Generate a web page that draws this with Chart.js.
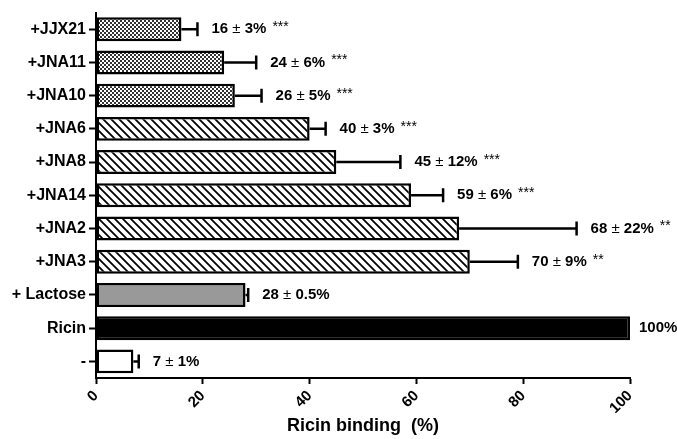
<!DOCTYPE html>
<html lang="en">
<head>
    <meta charset="UTF-8">
    <title>Ricin binding</title>
    <script src="https://cdn.jsdelivr.net/npm/chart.js"></script>
    <style>
        body {
            margin: 0;
            background: #fff;
        }
    </style>
</head>
<body>
    <canvas id="ricinChart" width="677" height="439"></canvas>

    <script>
        // data
        const categories = ['+JJX21', '+JNA11', '+JNA10', '+JNA6', '+JNA8', '+JNA14', '+JNA2', '+JNA3', '+ Lactose', 'Ricin', '-'];
        const binding = [16, 24, 26, 40, 45, 59, 68, 70, 28, 100, 7];
        const errors = [3, 6, 5, 3, 12, 6, 22, 9, 0.5, 0, 1];
        const valueLabels = ['16 ± 3%', '24 ± 6%', '26 ± 5%', '40 ± 3%', '45 ± 12%', '59 ± 6%', '68 ± 22%', '70 ± 9%', '28 ± 0.5%', '100%', '7 ± 1%'];
        const stars = ['***', '***', '***', '***', '***', '***', '**', '**', '', '', ''];
        const xTicks = [0, 20, 40, 60, 80, 100];

        const FONT = '"Liberation Sans", Arial, sans-serif';

        // fill patterns
        function dotPattern() {
            const c = document.createElement('canvas');
            c.width = 4; c.height = 4;
            const g = c.getContext('2d');
            g.fillStyle = '#fff';
            g.fillRect(0, 0, 4, 4);
            g.fillStyle = '#333';
            g.fillRect(0, 0, 2, 2);
            g.fillRect(2, 2, 2, 2);
            return g.createPattern(c, 'repeat');
        }

        function hatchPattern() {
            const s = 8;
            const c = document.createElement('canvas');
            c.width = s; c.height = s;
            const g = c.getContext('2d');
            g.fillStyle = '#fff';
            g.fillRect(0, 0, s, s);
            g.strokeStyle = '#000';
            g.lineWidth = 1.8;
            g.beginPath();
            g.moveTo(-1, -1); g.lineTo(s + 1, s + 1);
            g.moveTo(-1 - s, -1); g.lineTo(1, s + 1);
            g.moveTo(s - 1, -1); g.lineTo(2 * s + 1, s + 1);
            g.stroke();
            return g.createPattern(c, 'repeat');
        }

        const dots = dotPattern();
        const hatch = hatchPattern();
        const fills = [dots, dots, dots, hatch, hatch, hatch, hatch, hatch, '#999999', '#000000', '#ffffff'];

        // error bars + value labels
        const errorBars = {
            id: 'errorBars',
            afterDatasetsDraw(chart) {
                const ctx = chart.ctx;
                const xs = chart.scales.x;
                const meta = chart.getDatasetMeta(0);
                ctx.save();
                ctx.strokeStyle = '#000';
                ctx.fillStyle = '#000';
                ctx.lineWidth = 2.5;
                ctx.textBaseline = 'middle';
                ctx.textAlign = 'left';
                binding.forEach((v, i) => {
                    const y = meta.data[i].y;
                    const x0 = xs.getPixelForValue(v);
                    const x1 = xs.getPixelForValue(v + errors[i]);
                    let tx;
                    if (errors[i] > 0) {
                        ctx.beginPath();
                        ctx.moveTo(x0, y);
                        ctx.lineTo(x1, y);
                        ctx.moveTo(x1, y - 7);
                        ctx.lineTo(x1, y + 7);
                        ctx.stroke();
                        tx = x1 + 14;
                    } else {
                        tx = x1 + 9;
                    }
                    // "±" in regular weight, rest bold
                    const parts = valueLabels[i].split('±');
                    parts.forEach((p, k) => {
                        if (k > 0) {
                            ctx.font = '15px ' + FONT;
                            ctx.fillText('±', tx, y);
                            tx += ctx.measureText('±').width;
                        }
                        ctx.font = 'bold 15px ' + FONT;
                        ctx.fillText(p, tx, y);
                        tx += ctx.measureText(p).width;
                    });
                    if (stars[i]) {
                        ctx.font = '14px ' + FONT;
                        ctx.fillText(stars[i], tx + 6, y - 2);
                    }
                });
                ctx.restore();
            }
        };

        const ctx = document.getElementById('ricinChart').getContext('2d');
        new Chart(ctx, {
            type: 'bar',
            data: {
                labels: categories,
                datasets: [{
                    data: binding,
                    backgroundColor: fills,
                    borderColor: '#000',
                    borderWidth: 2.5,
                    borderSkipped: false,
                    barPercentage: 0.72,
                    categoryPercentage: 1
                }]
            },
            options: {
                indexAxis: 'y',
                responsive: false,
                animation: false,
                devicePixelRatio: 1,
                layout: {
                    padding: { left: 0, right: 47, top: 9, bottom: 0 }
                },
                plugins: {
                    legend: { display: false },
                    tooltip: { enabled: false }
                },
                scales: {
                    x: {
                        min: 0,
                        max: 100,
                        afterBuildTicks: (scale) => {
                            scale.ticks = xTicks.map(v => ({ value: v }));
                        },
                        afterFit: (scale) => { scale.height = 61; },
                        grid: {
                            drawOnChartArea: false,
                            tickLength: 6,
                            tickWidth: 2,
                            color: '#000'
                        },
                        border: { color: '#000', width: 2 },
                        ticks: {
                            minRotation: 45,
                            maxRotation: 45,
                            color: '#000',
                            padding: 3,
                            font: { family: FONT, size: 15, weight: 'bold' }
                        },
                        title: {
                            display: true,
                            text: 'Ricin binding  (%)',
                            color: '#000',
                            padding: { top: 0, bottom: 2 },
                            font: { family: FONT, size: 18, weight: 'bold' }
                        }
                    },
                    y: {
                        afterFit: (scale) => { scale.width = 96; },
                        grid: {
                            offset: false,
                            drawOnChartArea: false,
                            tickLength: 7,
                            tickWidth: 2,
                            color: '#000'
                        },
                        border: { color: '#000', width: 2 },
                        ticks: {
                            color: '#000',
                            padding: 3,
                            font: { family: FONT, size: 16, weight: 'bold' }
                        }
                    }
                }
            },
            plugins: [errorBars]
        });
    </script>
</body>
</html>
